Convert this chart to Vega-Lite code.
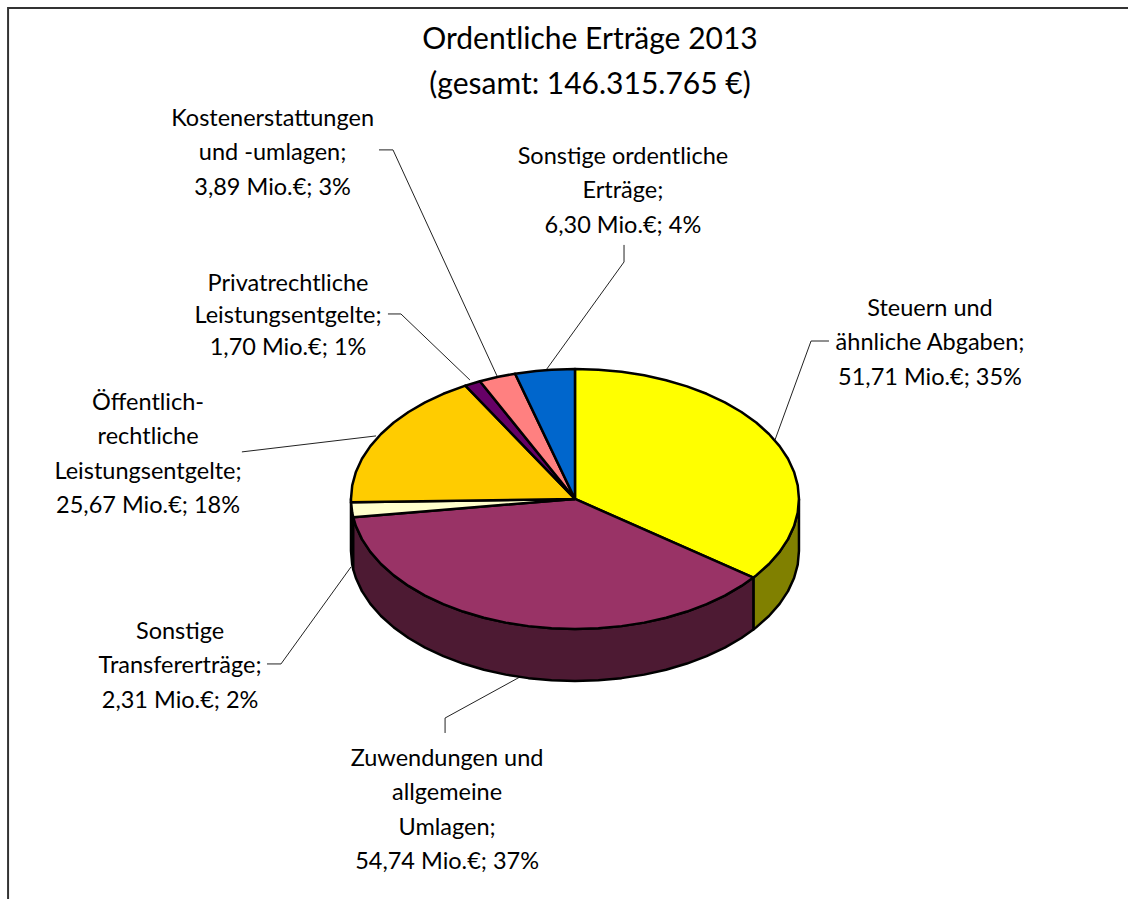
{"$schema":"https://vega.github.io/schema/vega-lite/v6.json","width":1128,"height":899,"padding":0,"autosize":{"type":"none"},"background":"white","config":{"view":{"stroke":null}},
"title":{"text":["Ordentliche Erträge 2013","(gesamt: 146.315.765 €)"],"font":"Lato","fontSize":30,"fontWeight":"normal","lineHeight":45,"color":"#000","anchor":"middle","baseline":"middle","offset":0,"dx":26,"dy":115},
"datasets":{
"frame":[{"s":"f","x":-2.531,"y":-3.077},{"s":"f","x":-2.531,"y":3.777},{"s":"f","x":2.469,"y":3.777}],
"leaders":[
{"s":"Steuern","x":1.134,"y":1.215},{"s":"Steuern","x":1.054,"y":1.215},{"s":"Steuern","x":0.893,"y":0.454},
{"s":"Zuwendungen","x":-0.58,"y":-1.8},{"s":"Zuwendungen","x":-0.58,"y":-1.685},{"s":"Zuwendungen","x":-0.2455,"y":-1.369},
{"s":"Transfer","x":-1.375,"y":-1.269},{"s":"Transfer","x":-1.3125,"y":-1.269},{"s":"Transfer","x":-1,"y":-0.523},
{"s":"Oeff","x":-1.487,"y":0.362},{"s":"Oeff","x":-0.888,"y":0.485},
{"s":"Privat","x":-0.835,"y":1.423},{"s":"Privat","x":-0.777,"y":1.423},{"s":"Privat","x":-0.469,"y":0.915},
{"s":"Kosten","x":-0.875,"y":2.685},{"s":"Kosten","x":-0.8125,"y":2.685},{"s":"Kosten","x":-0.348,"y":0.946},
{"s":"Sonst","x":0.219,"y":1.954},{"s":"Sonst","x":0.219,"y":1.823},{"s":"Sonst","x":-0.129,"y":0.992}],
"walls":[
{"s":"wy","x":1,"y":0},{"s":"wy","x":0.9945,"y":-0.1045},{"s":"wy","x":0.9781,"y":-0.2079},{"s":"wy","x":0.9511,"y":-0.309},{"s":"wy","x":0.9135,"y":-0.4067},{"s":"wy","x":0.866,"y":-0.5},{"s":"wy","x":0.809,"y":-0.5878},{"s":"wy","x":0.7965,"y":-0.6046},{"s":"wy","x":0.7965,"y":-1.0046},{"s":"wy","x":0.809,"y":-0.9878},{"s":"wy","x":0.866,"y":-0.9},{"s":"wy","x":0.9135,"y":-0.8067},{"s":"wy","x":0.9511,"y":-0.709},{"s":"wy","x":0.9781,"y":-0.6079},{"s":"wy","x":0.9945,"y":-0.5045},{"s":"wy","x":1,"y":-0.4},{"s":"wy","x":1,"y":0},
{"s":"wc","x":-0.99,"y":-0.1409},{"s":"wc","x":-0.9945,"y":-0.1045},{"s":"wc","x":-1,"y":0},{"s":"wc","x":-1,"y":-0.4},{"s":"wc","x":-0.9945,"y":-0.5045},{"s":"wc","x":-0.99,"y":-0.5409},{"s":"wc","x":-0.99,"y":-0.1409},
{"s":"wp","x":0.7965,"y":-0.6046},{"s":"wp","x":0.7431,"y":-0.6691},{"s":"wp","x":0.6691,"y":-0.7431},{"s":"wp","x":0.5878,"y":-0.809},{"s":"wp","x":0.5,"y":-0.866},{"s":"wp","x":0.4067,"y":-0.9135},{"s":"wp","x":0.309,"y":-0.9511},{"s":"wp","x":0.2079,"y":-0.9781},{"s":"wp","x":0.1045,"y":-0.9945},{"s":"wp","x":0,"y":-1},{"s":"wp","x":-0.1045,"y":-0.9945},{"s":"wp","x":-0.2079,"y":-0.9781},{"s":"wp","x":-0.309,"y":-0.9511},{"s":"wp","x":-0.4067,"y":-0.9135},{"s":"wp","x":-0.5,"y":-0.866},{"s":"wp","x":-0.5878,"y":-0.809},{"s":"wp","x":-0.6691,"y":-0.7431},{"s":"wp","x":-0.7431,"y":-0.6691},{"s":"wp","x":-0.809,"y":-0.5878},{"s":"wp","x":-0.866,"y":-0.5},{"s":"wp","x":-0.9135,"y":-0.4067},{"s":"wp","x":-0.9511,"y":-0.309},{"s":"wp","x":-0.9781,"y":-0.2079},{"s":"wp","x":-0.99,"y":-0.1409},
{"s":"wp","x":-0.99,"y":-0.5409},{"s":"wp","x":-0.9781,"y":-0.6079},{"s":"wp","x":-0.9511,"y":-0.709},{"s":"wp","x":-0.9135,"y":-0.8067},{"s":"wp","x":-0.866,"y":-0.9},{"s":"wp","x":-0.809,"y":-0.9878},{"s":"wp","x":-0.7431,"y":-1.0691},{"s":"wp","x":-0.6691,"y":-1.1431},{"s":"wp","x":-0.5878,"y":-1.209},{"s":"wp","x":-0.5,"y":-1.266},{"s":"wp","x":-0.4067,"y":-1.3135},{"s":"wp","x":-0.309,"y":-1.3511},{"s":"wp","x":-0.2079,"y":-1.3781},{"s":"wp","x":-0.1045,"y":-1.3945},{"s":"wp","x":0,"y":-1.4},{"s":"wp","x":0.1045,"y":-1.3945},{"s":"wp","x":0.2079,"y":-1.3781},{"s":"wp","x":0.309,"y":-1.3511},{"s":"wp","x":0.4067,"y":-1.3135},{"s":"wp","x":0.5,"y":-1.266},{"s":"wp","x":0.5878,"y":-1.209},{"s":"wp","x":0.6691,"y":-1.1431},{"s":"wp","x":0.7431,"y":-1.0691},{"s":"wp","x":0.7965,"y":-1.0046},{"s":"wp","x":0.7965,"y":-0.6046}],
"tops":[
{"s":"Steuern","x":0,"y":0},{"s":"Steuern","x":0,"y":1},{"s":"Steuern","x":0.1045,"y":0.9945},{"s":"Steuern","x":0.2079,"y":0.9781},{"s":"Steuern","x":0.309,"y":0.9511},{"s":"Steuern","x":0.4067,"y":0.9135},{"s":"Steuern","x":0.5,"y":0.866},{"s":"Steuern","x":0.5878,"y":0.809},{"s":"Steuern","x":0.6691,"y":0.7431},{"s":"Steuern","x":0.7431,"y":0.6691},{"s":"Steuern","x":0.809,"y":0.5878},{"s":"Steuern","x":0.866,"y":0.5},{"s":"Steuern","x":0.9135,"y":0.4067},{"s":"Steuern","x":0.9511,"y":0.309},{"s":"Steuern","x":0.9781,"y":0.2079},{"s":"Steuern","x":0.9945,"y":0.1045},{"s":"Steuern","x":1,"y":0},{"s":"Steuern","x":0.9945,"y":-0.1045},{"s":"Steuern","x":0.9781,"y":-0.2079},{"s":"Steuern","x":0.9511,"y":-0.309},{"s":"Steuern","x":0.9135,"y":-0.4067},{"s":"Steuern","x":0.866,"y":-0.5},{"s":"Steuern","x":0.809,"y":-0.5878},{"s":"Steuern","x":0.7965,"y":-0.6046},{"s":"Steuern","x":0,"y":0},
{"s":"Zuwendungen","x":0,"y":0},{"s":"Zuwendungen","x":0.7965,"y":-0.6046},{"s":"Zuwendungen","x":0.7431,"y":-0.6691},{"s":"Zuwendungen","x":0.6691,"y":-0.7431},{"s":"Zuwendungen","x":0.5878,"y":-0.809},{"s":"Zuwendungen","x":0.5,"y":-0.866},{"s":"Zuwendungen","x":0.4067,"y":-0.9135},{"s":"Zuwendungen","x":0.309,"y":-0.9511},{"s":"Zuwendungen","x":0.2079,"y":-0.9781},{"s":"Zuwendungen","x":0.1045,"y":-0.9945},{"s":"Zuwendungen","x":0,"y":-1},{"s":"Zuwendungen","x":-0.1045,"y":-0.9945},{"s":"Zuwendungen","x":-0.2079,"y":-0.9781},{"s":"Zuwendungen","x":-0.309,"y":-0.9511},{"s":"Zuwendungen","x":-0.4067,"y":-0.9135},{"s":"Zuwendungen","x":-0.5,"y":-0.866},{"s":"Zuwendungen","x":-0.5878,"y":-0.809},{"s":"Zuwendungen","x":-0.6691,"y":-0.7431},{"s":"Zuwendungen","x":-0.7431,"y":-0.6691},{"s":"Zuwendungen","x":-0.809,"y":-0.5878},{"s":"Zuwendungen","x":-0.866,"y":-0.5},{"s":"Zuwendungen","x":-0.9135,"y":-0.4067},{"s":"Zuwendungen","x":-0.9511,"y":-0.309},{"s":"Zuwendungen","x":-0.9781,"y":-0.2079},{"s":"Zuwendungen","x":-0.99,"y":-0.1409},{"s":"Zuwendungen","x":0,"y":0},
{"s":"Transfer","x":0,"y":0},{"s":"Transfer","x":-0.99,"y":-0.1409},{"s":"Transfer","x":-0.9945,"y":-0.1045},{"s":"Transfer","x":-0.9997,"y":-0.0262},{"s":"Transfer","x":0,"y":0},
{"s":"Oeff","x":0,"y":0},{"s":"Oeff","x":-0.9997,"y":-0.0262},{"s":"Oeff","x":-1,"y":0},{"s":"Oeff","x":-0.9945,"y":0.1045},{"s":"Oeff","x":-0.9781,"y":0.2079},{"s":"Oeff","x":-0.9511,"y":0.309},{"s":"Oeff","x":-0.9135,"y":0.4067},{"s":"Oeff","x":-0.866,"y":0.5},{"s":"Oeff","x":-0.809,"y":0.5878},{"s":"Oeff","x":-0.7431,"y":0.6691},{"s":"Oeff","x":-0.6691,"y":0.7431},{"s":"Oeff","x":-0.5878,"y":0.809},{"s":"Oeff","x":-0.4894,"y":0.8721},{"s":"Oeff","x":0,"y":0},
{"s":"Privat","x":0,"y":0},{"s":"Privat","x":-0.4894,"y":0.8721},{"s":"Privat","x":-0.4242,"y":0.9056},{"s":"Privat","x":0,"y":0},
{"s":"Kosten","x":0,"y":0},{"s":"Kosten","x":-0.4242,"y":0.9056},{"s":"Kosten","x":-0.342,"y":0.9397},{"s":"Kosten","x":-0.2672,"y":0.9636},{"s":"Kosten","x":0,"y":0},
{"s":"Sonst","x":0,"y":0},{"s":"Sonst","x":-0.2672,"y":0.9636},{"s":"Sonst","x":-0.1736,"y":0.9848},{"s":"Sonst","x":-0.1045,"y":0.9945},{"s":"Sonst","x":0,"y":1},{"s":"Sonst","x":0,"y":0}],
"labels":[
{"s":"Steuern","wert":51.71,"anteil":35,"label":"Steuern und\nähnliche Abgaben;\n51,71 Mio.€; 35%","x":1.585,"y":1.465},
{"s":"Zuwendungen","wert":54.74,"anteil":37,"label":"Zuwendungen und\nallgemeine\nUmlagen;\n54,74 Mio.€; 37%","x":-0.571,"y":-1.997},
{"s":"Transfer","wert":2.31,"anteil":2,"label":"Sonstige\nTransfererträge;\n2,31 Mio.€; 2%","x":-1.763,"y":-1.02},
{"s":"Oeff","wert":25.67,"anteil":18,"label":"Öffentlich-\nrechtliche\nLeistungsentgelte;\n25,67 Mio.€; 18%","x":-1.906,"y":0.742},
{"s":"Kosten","wert":3.89,"anteil":3,"label":"Kostenerstattungen\nund -umlagen;\n3,89 Mio.€; 3%","x":-1.35,"y":2.926},
{"s":"Sonst","wert":6.3,"anteil":4,"label":"Sonstige ordentliche\nErträge;\n6,30 Mio.€; 4%","x":0.214,"y":2.634}],
"labels2":[{"s":"Privat","wert":1.7,"anteil":1,"label":"Privatrechtliche\nLeistungsentgelte;\n1,70 Mio.€; 1%","x":-1.281,"y":1.65}]
},
"encoding":{
"x":{"field":"x","type":"quantitative","axis":null,"scale":{"domain":[-2.567,2.469],"nice":false,"zero":false}},
"y":{"field":"y","type":"quantitative","axis":null,"scale":{"domain":[-3.077,3.838],"nice":false,"zero":false}}},
"layer":[
{"data":{"name":"frame"},"mark":{"type":"line","stroke":"#333","strokeWidth":2,"clip":false},"encoding":{"order":{"value":null}}},
{"data":{"name":"leaders"},"mark":{"type":"line","stroke":"#222","strokeWidth":1},"encoding":{"detail":{"field":"s"},"order":{"value":null}}},
{"data":{"name":"walls"},"mark":{"type":"line","stroke":"#000","strokeWidth":2.5,"strokeJoin":"round"},"encoding":{"fill":{"field":"s","type":"nominal","legend":null,"scale":{"domain":["wy","wc","wp"],"range":["#808000","#666650","#4D1A33"]}},"order":{"value":null}}},
{"data":{"name":"tops"},"mark":{"type":"line","stroke":"#000","strokeWidth":2.5,"strokeJoin":"round"},"encoding":{"fill":{"field":"s","type":"nominal","legend":null,"scale":{"domain":["Steuern","Zuwendungen","Transfer","Oeff","Privat","Kosten","Sonst"],"range":["#FFFF00","#993366","#FFFFCC","#FFCC00","#660066","#FF8080","#0066CC"]}},"order":{"value":null}}},
{"data":{"name":"labels"},"mark":{"type":"text","font":"Lato","fontSize":23.5,"lineBreak":"\n","lineHeight":34.5,"align":"center","baseline":"middle","color":"#000"},"encoding":{"text":{"field":"label"}}},
{"data":{"name":"labels2"},"mark":{"type":"text","font":"Lato","fontSize":23.5,"lineBreak":"\n","lineHeight":32,"align":"center","baseline":"middle","color":"#000"},"encoding":{"text":{"field":"label"}}}
],
"resolve":{"scale":{"fill":"independent"}}
}
